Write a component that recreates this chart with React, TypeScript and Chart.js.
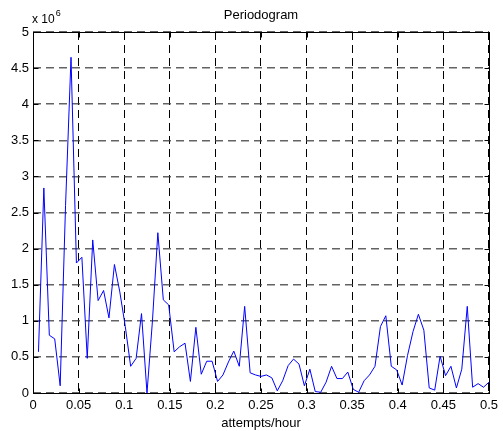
import React, { useEffect, useRef } from "react";
import { Chart, registerables } from "chart.js";

Chart.register(...registerables);

const freq = [
  0.006, 0.0119, 0.0179, 0.0238, 0.0298, 0.0357, 0.0417, 0.0476, 0.0536, 0.0595,
  0.0655, 0.0714, 0.0774, 0.0833, 0.0893, 0.0952, 0.1012, 0.1071, 0.1131, 0.119,
  0.125, 0.131, 0.1369, 0.1429, 0.1488, 0.1548, 0.1607, 0.1667, 0.1726, 0.1786,
  0.1845, 0.1905, 0.1964, 0.2024, 0.2083, 0.2143, 0.2202, 0.2262, 0.2321, 0.2381,
  0.244, 0.25, 0.256, 0.2619, 0.2679, 0.2738, 0.2798, 0.2857, 0.2917, 0.2976,
  0.3036, 0.3095, 0.3155, 0.3214, 0.3274, 0.3333, 0.3393, 0.3452, 0.3512, 0.3571,
  0.3631, 0.369, 0.375, 0.381, 0.3869, 0.3929, 0.3988, 0.4048, 0.4107, 0.4167,
  0.4226, 0.4286, 0.4345, 0.4405, 0.4464, 0.4524, 0.4583, 0.4643, 0.4702, 0.4762,
  0.4821, 0.4881, 0.494, 0.5,
];

// power in units of 10^6
const power = [
  0.57, 2.84, 0.8, 0.75, 0.1, 2.6, 4.65, 1.8, 1.88, 0.48,
  2.12, 1.28, 1.42, 1.04, 1.78, 1.4, 0.92, 0.37, 0.48, 1.1,
  0.0, 1.0, 2.22, 1.29, 1.22, 0.57, 0.64, 0.69, 0.16, 0.91,
  0.26, 0.44, 0.44, 0.16, 0.25, 0.43, 0.58, 0.37, 1.2, 0.28,
  0.25, 0.23, 0.25, 0.21, 0.03, 0.17, 0.38, 0.47, 0.4, 0.1,
  0.33, 0.02, 0.01, 0.15, 0.37, 0.2, 0.2, 0.29, 0.05, 0.01,
  0.17, 0.25, 0.37, 0.92, 1.07, 0.37, 0.32, 0.11, 0.52, 0.85,
  1.09, 0.87, 0.07, 0.04, 0.51, 0.24, 0.37, 0.07, 0.33, 1.2,
  0.08, 0.13, 0.08, 0.15,
];

const titleText = "Periodogram";
const xLabel = "attempts/hour";
const yExponentBase = "x 10";
const yExponent = "6";

const FONT = "'Liberation Sans', Arial, sans-serif";

const matlabBox = {
  id: "matlabBox",
  afterDraw(chart: any) {
    const { ctx, chartArea: a, scales } = chart;
    ctx.save();
    ctx.strokeStyle = "#000";
    ctx.lineWidth = 1;
    ctx.setLineDash([]);
    const L = Math.round(a.left) + 0.5;
    const R = Math.round(a.right) + 0.5;
    const T = Math.round(a.top) + 0.5;
    const B = Math.round(a.bottom) + 0.5;
    ctx.strokeRect(L, T, R - L, B - T);
    const tl = 5;
    ctx.beginPath();
    scales.x.ticks.forEach((t: any) => {
      const px = Math.round(scales.x.getPixelForValue(t.value)) + 0.5;
      ctx.moveTo(px, B);
      ctx.lineTo(px, B - tl);
      ctx.moveTo(px, T);
      ctx.lineTo(px, T + tl);
    });
    scales.y.ticks.forEach((t: any) => {
      const py = Math.round(scales.y.getPixelForValue(t.value)) + 0.5;
      ctx.moveTo(L, py);
      ctx.lineTo(L + tl, py);
      ctx.moveTo(R, py);
      ctx.lineTo(R - tl, py);
    });
    ctx.stroke();

    ctx.fillStyle = "#000";
    ctx.textBaseline = "middle";
    ctx.textAlign = "center";
    ctx.font = `13px ${FONT}`;
    ctx.fillText(titleText, (a.left + a.right) / 2, 15);
    ctx.textAlign = "left";
    ctx.font = `12px ${FONT}`;
    ctx.fillText(yExponentBase, a.left - 1, 20);
    const w = ctx.measureText(yExponentBase).width;
    ctx.font = `9px ${FONT}`;
    ctx.fillText(yExponent, a.left - 1 + w + 1, 14);
    ctx.restore();
  },
};

export default function App() {
  const ref = useRef<HTMLCanvasElement | null>(null);

  useEffect(() => {
    if (!ref.current) return;
    const chart = new Chart(ref.current, {
      type: "line",
      data: {
        datasets: [
          {
            data: freq.map((f, i) => ({ x: f, y: power[i] })),
            borderColor: "#0000ff",
            borderWidth: 1,
            pointRadius: 0,
            tension: 0,
            fill: false,
          },
        ],
      },
      options: {
        animation: false,
        responsive: false,
        devicePixelRatio: 1,
        layout: { padding: { left: 0, top: 32, right: 12, bottom: 0 } },
        plugins: {
          legend: { display: false },
          title: { display: false },
          tooltip: { enabled: false },
        },
        scales: {
          x: {
            type: "linear",
            min: 0,
            max: 0.5,
            afterFit: (s: any) => {
              s.height = 38;
            },
            ticks: {
              stepSize: 0.05,
              padding: 5,
              color: "#000",
              maxRotation: 0,
              autoSkip: false,
              font: { family: FONT, size: 13 },
              callback: (v: any) => String(parseFloat(Number(v).toFixed(2))),
            },
            grid: {
              color: "#000",
              lineWidth: 1,
              drawTicks: false,
            },
            border: { display: false, dash: [8, 5] },
            title: {
              display: true,
              text: xLabel,
              color: "#000",
              font: { family: FONT, size: 13 },
              padding: { top: 0, bottom: 0 },
            },
          },
          y: {
            min: 0,
            max: 5,
            afterFit: (s: any) => {
              s.width = 33;
            },
            ticks: {
              stepSize: 0.5,
              padding: 4,
              color: "#000",
              font: { family: FONT, size: 13 },
              callback: (v: any) => String(parseFloat(Number(v).toFixed(1))),
            },
            grid: {
              color: "rgba(60,60,60,0.8)",
              lineWidth: 1.6,
              drawTicks: false,
            },
            border: { display: false, dash: [8, 5] },
          },
        },
      },
      plugins: [matlabBox],
    });
    return () => chart.destroy();
  }, []);

  return (
    <div style={{ position: "absolute", left: 0, top: 0, width: 503, height: 431, background: "#fff" }}>
      <canvas ref={ref} width={503} height={431} style={{ display: "block" }} />
    </div>
  );
}
